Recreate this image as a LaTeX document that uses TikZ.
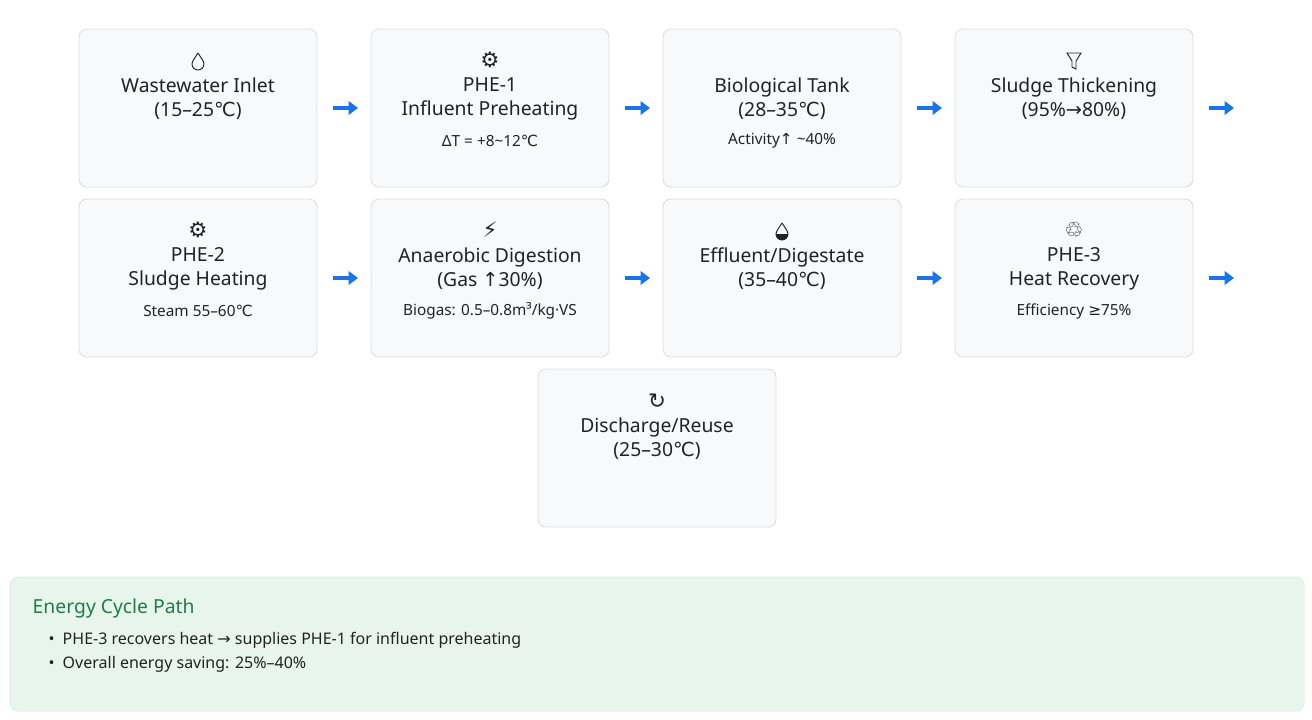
\documentclass[tikz,border=0pt]{standalone}
\usepackage{fontspec}
\setmainfont{Noto Sans}
\newfontfamily\dv{DejaVu Sans}
\newcommand{\dC}{{\dv ℃}}
\usetikzlibrary{arrows.meta,calc}
\definecolor{boxfill}{HTML}{F8F9FA}
\definecolor{boxline}{HTML}{DADCE0}
\definecolor{txt}{HTML}{222222}
\definecolor{arr}{HTML}{1A73E8}
\definecolor{gfill}{HTML}{E8F5EC}
\definecolor{gline}{HTML}{D2EBDA}
\definecolor{gtitle}{HTML}{1E7E45}
\begin{document}
\begin{tikzpicture}[x=0.75pt,y=-0.75pt,
  box/.style={draw=boxline,fill=boxfill,rounded corners=6pt,line width=0.6pt},
  ttl/.style={text=txt,font=\fontsize{14.5}{18}\selectfont,align=center,anchor=center},
  sub/.style={text=txt,font=\fontsize{11.5}{14}\selectfont,anchor=center},
  ico/.style={text=txt,font=\dv\fontsize{16}{18}\selectfont,anchor=center},
  flow/.style={draw=arr,line width=2.4pt,-{Triangle[length=7pt,width=10pt]}}]
\useasboundingbox (0,0) rectangle (1312,719);
% row boxes
\foreach \n/\x/\y in {a/79/29,b/371/29,c/663/29,d/955/29,e/79/199,f/371/199,g/663/199,h/955/199,i/538/369}{
  \draw[box] (\x,\y) rectangle ++(238,158);
  \coordinate (\n) at (\x+119,\y);
}
% icons
\draw[txt,line width=0.7pt] ($(a)+(0,24)$) .. controls ($(a)+(-3,29)$) and ($(a)+(-6,32)$) .. ($(a)+(-6,35)$) arc[start angle=180,end angle=0,radius=6] .. controls ($(a)+(6,32)$) and ($(a)+(3,29)$) .. ($(a)+(0,24)$);
\node[ico] (ib) at ($(b)+(0,31)$) {⚙};
\draw[txt,line width=0.7pt] ($(d)+(-7,24)$) -- ($(d)+(7,24)$) -- ($(d)+(2,32)$) -- ($(d)+(2,40)$) -- ($(d)+(-2,38)$) -- ($(d)+(-2,32)$) -- cycle;
\node[ico] (ie) at ($(e)+(0,31)$) {⚙};
\node[ico] (iff) at ($(f)+(0,31)$) {⚡};
\draw[txt,line width=0.7pt] ($(g)+(0,24)$) .. controls ($(g)+(-3,29)$) and ($(g)+(-6,32)$) .. ($(g)+(-6,35)$) arc[start angle=180,end angle=0,radius=6] .. controls ($(g)+(6,32)$) and ($(g)+(3,29)$) .. ($(g)+(0,24)$);
\fill[txt] ($(g)+(-6,35)$) arc[start angle=180,end angle=0,radius=6] -- cycle;
\node[ico] (ih) at ($(h)+(0,31)$) {♲};
\node[ico] (ii) at ($(i)+(0,32)$) {↻};
% titles
\node[ttl] (ta) at ($(a)+(0,70)$) {Wastewater Inlet\\(15–25\dC)};
\node[ttl] (tb) at ($(b)+(0,70)$) {PHE-1\\Influent Preheating};
\node[sub] (sb) at ($(b)+(0,112)$) {ΔT = +8\textasciitilde12\dC};
\node[ttl] (tc) at ($(c)+(0,70)$) {Biological Tank\\(28–35\dC)};
\node[sub] (sc) at ($(c)+(0,112)$) {Activity{\dv ↑} \textasciitilde40\%};
\node[ttl] (td) at ($(d)+(0,70)$) {Sludge Thickening\\(95\%{\dv →}80\%)};
\node[ttl] (te) at ($(e)+(0,70)$) {PHE-2\\Sludge Heating};
\node[sub] (se) at ($(e)+(0,112)$) {Steam 55–60\dC};
\node[ttl] (tf) at ($(f)+(0,70)$) {Anaerobic Digestion\\(Gas {\dv ↑}30\%)};
\node[sub] (sf) at ($(f)+(0,112)$) {Biogas: 0.5–0.8m³/kg·VS};
\node[ttl] (tg) at ($(g)+(0,70)$) {Effluent/Digestate\\(35–40\dC)};
\node[ttl] (th) at ($(h)+(0,70)$) {PHE-3\\Heat Recovery};
\node[sub] (sh) at ($(h)+(0,112)$) {Efficiency {\dv ≥}75\%};
\node[ttl] (ti) at ($(i)+(0,70)$) {Discharge/Reuse\\(25–30\dC)};
% arrows
\foreach \x in {333,625,917,1209}{
  \draw[flow] (\x,108) -- (\x+25,108);
  \draw[flow] (\x,278) -- (\x+25,278);
}
% energy box
\draw[draw=gline,fill=gfill,rounded corners=6pt] (10,577) rectangle (1304,711);
\node[anchor=west,text=gtitle,font=\fontsize{14.5}{18}\selectfont] (et) at (28,608) {Energy Cycle Path};
\node[anchor=west,text=txt,font=\fontsize{12}{14}\selectfont] (e1) at (44,640) {•\hspace{6pt}PHE-3 recovers heat {\dv →} supplies PHE-1 for influent preheating};
\node[anchor=west,text=txt,font=\fontsize{12}{14}\selectfont] (e2) at (44,664) {•\hspace{6pt}Overall energy saving: 25\%–40\%};
\end{tikzpicture}
\end{document}
